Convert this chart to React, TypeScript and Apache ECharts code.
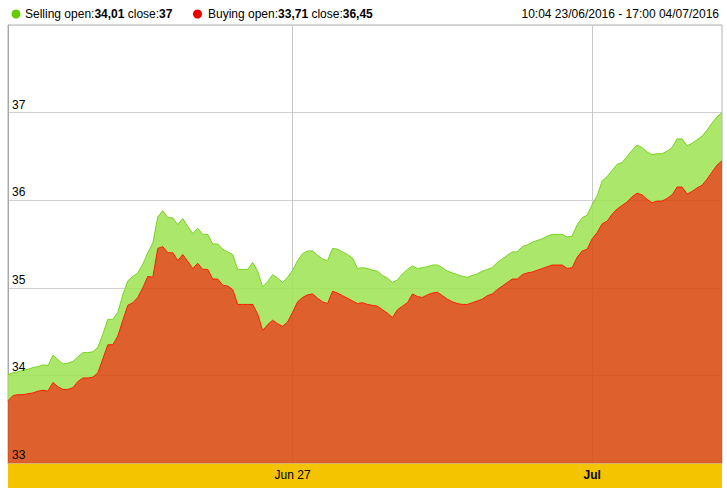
import React, { useEffect, useRef } from "react";
import * as echarts from "echarts";

const selling = [
  34.01, 34.03, 34.04, 34.06, 34.07, 34.09, 34.1, 34.12, 34.11, 34.23,
  34.18, 34.13, 34.14, 34.16, 34.21, 34.26, 34.26, 34.27, 34.32, 34.47,
  34.64, 34.64, 34.72, 34.92, 35.08, 35.13, 35.17, 35.27, 35.4, 35.51,
  35.81, 35.88, 35.8, 35.8, 35.72, 35.79, 35.7, 35.62, 35.68, 35.61,
  35.61, 35.5, 35.5, 35.44, 35.41, 35.38, 35.21, 35.21, 35.21, 35.29,
  35.19, 35.01, 35.07, 35.15, 35.11, 35.06, 35.12, 35.2, 35.31, 35.39,
  35.42, 35.42, 35.37, 35.33, 35.31, 35.45, 35.44, 35.41, 35.38, 35.34,
  35.22, 35.23, 35.22, 35.2, 35.19, 35.14, 35.11, 35.06, 35.09, 35.16,
  35.21, 35.25, 35.22, 35.23, 35.24, 35.26, 35.26, 35.23, 35.19, 35.17,
  35.15, 35.13, 35.12, 35.14, 35.16, 35.19, 35.21, 35.23, 35.29, 35.33,
  35.37, 35.41, 35.41, 35.47, 35.49, 35.52, 35.54, 35.56, 35.59, 35.61,
  35.61, 35.61, 35.58, 35.59, 35.72, 35.8, 35.83, 35.95, 36.05, 36.22,
  36.27, 36.34, 36.41, 36.43, 36.5, 36.57, 36.63, 36.6, 36.55, 36.52,
  36.53, 36.53, 36.56, 36.6, 36.7, 36.7, 36.62, 36.65, 36.69, 36.73,
  36.8, 36.88, 36.95, 37.0,
];

const buying = [
  33.71, 33.77, 33.78, 33.78, 33.79, 33.8, 33.82, 33.83, 33.82, 33.92,
  33.87, 33.84, 33.84, 33.86, 33.93, 33.97, 33.97, 33.98, 34.03, 34.19,
  34.35, 34.35, 34.45, 34.63, 34.8, 34.83, 34.89, 35.0, 35.13, 35.12,
  35.45, 35.47, 35.4, 35.4, 35.31, 35.38, 35.3, 35.22, 35.28, 35.21,
  35.21, 35.1, 35.1, 35.03, 35.02, 34.98, 34.81, 34.81, 34.81, 34.81,
  34.7, 34.51, 34.58, 34.63, 34.59, 34.56, 34.61, 34.72, 34.84, 34.89,
  34.92, 34.93, 34.88, 34.84, 34.82, 34.96, 34.94, 34.91, 34.88, 34.85,
  34.82, 34.83, 34.81, 34.8, 34.79, 34.75, 34.71, 34.66, 34.75, 34.79,
  34.83, 34.93, 34.9, 34.89, 34.92, 34.94, 34.95, 34.91, 34.87, 34.84,
  34.82, 34.81, 34.81, 34.83, 34.85, 34.87, 34.91, 34.93, 34.98, 35.02,
  35.06, 35.1, 35.1, 35.15, 35.17, 35.18, 35.2, 35.22, 35.24, 35.26,
  35.26, 35.26, 35.22, 35.23, 35.35, 35.42, 35.44, 35.56, 35.63, 35.73,
  35.76, 35.84, 35.9, 35.94, 35.98, 36.04, 36.08, 36.06, 36.01, 35.97,
  35.99, 35.99, 36.02, 36.06, 36.15, 36.15, 36.07, 36.1, 36.14, 36.17,
  36.24, 36.32, 36.4, 36.45,
];

const categories = selling.map((_, i) => String(i));
const tickIndex = [57, 117];
const tickLabels = ["Jun 27", "Jul"];
const tickBold = [false, true];
const yTicks = [33, 34, 35, 36, 37];

const FONT = "'Liberation Sans', Arial, sans-serif";

export default function App() {
  const ref = useRef<HTMLDivElement>(null);
  useEffect(() => {
    if (!ref.current) return;
    const chart = echarts.init(ref.current, null, { renderer: "svg" });
    const diff = selling.map((v, i) => +(v - buying[i]).toFixed(4));
    const rich = {
      n: { fontSize: 12, fontFamily: FONT, color: "#000" },
      b: { fontSize: 12, fontFamily: FONT, color: "#000", fontWeight: "bold" },
    };
    chart.setOption({
      animation: false,
      backgroundColor: "#fff",
      textStyle: { fontFamily: FONT },
      grid: {
        left: 8,
        right: 5,
        top: 25,
        bottom: 25,
        show: true,
        borderColor: "#b0b0b0",
        borderWidth: 1,
        backgroundColor: "transparent",
      },
      graphic: [
        {
          type: "rect",
          shape: { x: 8, y: 464, width: 714, height: 24 },
          style: { fill: "#f5c400" },
          z: 0,
        },
        {
          type: "circle",
          shape: { cx: 16, cy: 14, r: 4.5 },
          style: { fill: "#66cc00" },
        },
        {
          type: "text",
          x: 25,
          y: 14,
          style: {
            text: "{n|Selling open:}{b|34,01}{n| close:}{b|37}",
            rich,
            verticalAlign: "middle",
          },
        },
        {
          type: "circle",
          shape: { cx: 197.5, cy: 14, r: 4.5 },
          style: { fill: "#ee0000" },
        },
        {
          type: "text",
          x: 208,
          y: 14,
          style: {
            text: "{n|Buying open:}{b|33,71}{n| close:}{b|36,45}",
            rich,
            verticalAlign: "middle",
          },
        },
        {
          type: "text",
          x: 719,
          y: 14,
          style: {
            text: "10:04 23/06/2016 - 17:00 04/07/2016",
            fontSize: 12,
            fontFamily: FONT,
            fill: "#000",
            align: "right",
            verticalAlign: "middle",
          },
        },
      ],
      xAxis: {
        type: "category",
        data: categories,
        boundaryGap: false,
        axisLine: { show: true, lineStyle: { color: "#e0b070", width: 1 } },
        axisTick: { show: false },
        axisLabel: {
          interval: (i: number) => tickIndex.includes(i),
          margin: 6,
          formatter: (_v: string, i: number) => {
            const k = tickIndex.indexOf(i);
            if (k < 0) return "";
            return tickBold[k] ? `{b|${tickLabels[k]}}` : `{n|${tickLabels[k]}}`;
          },
          rich,
        },
        splitLine: {
          show: true,
          interval: (i: number) => tickIndex.includes(i),
          lineStyle: { color: "#c8c8c8", width: 1 },
        },
      },
      yAxis: [
        {
          type: "value",
          min: yTicks[0],
          max: 38,
          interval: 1,
          axisLine: { show: true, lineStyle: { color: "#a8a8a8" } },
          axisTick: { show: false },
          axisLabel: { show: false },
          splitLine: { show: true, lineStyle: { color: "#cfcfcf", width: 1 } },
        },
        {
          type: "value",
          position: "left",
          min: yTicks[0],
          max: 38,
          interval: 1,
          z: 10,
          axisLine: { show: false },
          axisTick: { show: false },
          splitLine: { show: false },
          axisLabel: {
            inside: true,
            margin: 4,
            verticalAlign: "bottom",
            padding: [0, 0, 2, 0],
            fontSize: 12,
            fontFamily: FONT,
            color: "#000",
            formatter: (v: number) => (yTicks.includes(v) ? String(v) : ""),
          },
        },
      ],
      series: [
        {
          name: "Buying",
          type: "line",
          stack: "s",
          yAxisIndex: 0,
          data: buying,
          showSymbol: false,
          symbol: "none",
          lineStyle: { color: "#ff1a00", width: 1 },
          areaStyle: { color: "#d84a10", opacity: 0.88 },
          z: 3,
        },
        {
          name: "Selling",
          type: "line",
          stack: "s",
          yAxisIndex: 0,
          data: diff,
          showSymbol: false,
          symbol: "none",
          lineStyle: { color: "#77d41c", width: 1 },
          areaStyle: { color: "#9ee455", opacity: 0.88 },
          z: 2,
        },
      ],
    });
    return () => chart.dispose();
  }, []);
  return (
    <div
      ref={ref}
      style={{ position: "fixed", left: 0, top: 0, width: 727, height: 488 }}
    />
  );
}
